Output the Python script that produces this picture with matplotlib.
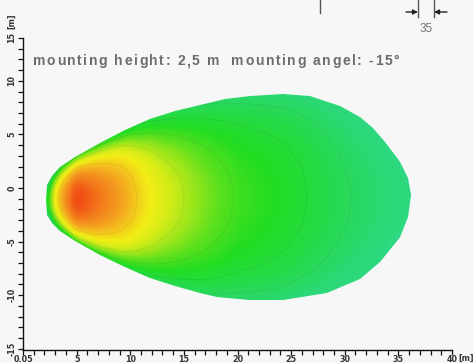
import numpy as np
import matplotlib
matplotlib.use("Agg")
import matplotlib.pyplot as plt
from matplotlib.colors import LinearSegmentedColormap
from matplotlib.patches import Polygon, FancyArrowPatch
from matplotlib.lines import Line2D
from matplotlib.transforms import IdentityTransform
from matplotlib.font_manager import FontProperties, findfont, get_font
from matplotlib.ticker import MultipleLocator

# ---------------- data ----------------
# outline of the lit area (metres)
nose_x = [2.15]
nose_y = [-1.10]
top_x = [2.24, 2.70, 3.45, 4.85, 7.18, 9.51, 11.84, 14.17, 16.50, 18.83, 21.17, 24.24, 26.76,
         29.56, 31.42, 32.63, 33.75, 35.15, 35.90, 36.18]
top_y = [0.28, 1.12, 1.96, 2.89, 4.20, 5.41, 6.44, 7.18, 7.74, 8.30, 8.58, 8.77, 8.58,
         7.65, 6.62, 5.60, 4.29, 2.45, 0.93, -0.65]
bot_x = [2.24, 2.70, 3.45, 4.85, 7.18, 9.51, 11.84, 14.17, 16.50, 18.09, 21.17, 24.24, 28.34,
         31.42, 33.29, 35.15, 35.90, 36.18]
bot_y = [-2.52, -3.26, -4.01, -4.94, -6.25, -7.37, -8.40, -9.14, -9.79, -10.17, -10.45, -10.45, -9.79,
         -8.49, -6.90, -4.60, -2.71, -0.65]

# relative illuminance along the beam axis
center_x = [2.24, 2.6, 3.0, 3.7, 4.7, 5.3, 6.5, 8.0, 9.3, 11.2, 13.0, 15.6, 18.0, 20.0, 23.3, 26.0, 29.0, 32.6, 35.0, 36.3]
center_level = [0.30, 0.45, 0.62, 0.80, 0.98, 1.00, 0.94, 0.86, 0.79, 0.66, 0.57, 0.48, 0.41, 0.36, 0.31, 0.26, 0.19, 0.12, 0.08, 0.06]
iso_levels = [0.16, 0.25, 0.37, 0.50, 0.70]

x_ticks = [0, 5, 10, 15, 20, 25, 30, 35, 40]
x_tick_labels = ["0.05", "5", "10", "15", "20", "25", "30", "35", "40"]
y_ticks = [-15, -10, -5, 0, 5, 10, 14]
y_tick_labels = ["-15", "-10", "-5", "0", "5", "10", "15"]
unit_label = "[m]"
title_text = "mounting height: 2,5 m  mounting angel: -15°"
dim_label = "35"

# ---------------- figure ----------------
W, H, DPI = 473, 363, 100
BG = "#f7f7f7"
fig = plt.figure(figsize=(W / DPI, H / DPI), dpi=DPI, facecolor=BG)
ax = fig.add_axes([23 / W, (H - 350) / H, (452 - 23) / W, (350 - 37.7) / H])
ax.set_facecolor(BG)
ax.set_xlim(0, 40)
ax.set_ylim(-15.11, 14.02)

cmap = LinearSegmentedColormap.from_list("lux", [
    (0.00, "#30d88a"), (0.10, "#2cd874"), (0.20, "#27da4c"), (0.31, "#22dd22"),
    (0.40, "#5ae01e"), (0.47, "#9ae61c"), (0.55, "#d8ec18"), (0.62, "#f2ee16"),
    (0.72, "#f4c41e"), (0.80, "#f4a020"), (0.90, "#f37a1c"), (1.00, "#f04c14")])

gx = np.linspace(0, 40, 600)
gy = np.linspace(-15.11, 14.02, 440)
X, Y = np.meshgrid(gx, gy)
t = np.interp(gx, top_x, top_y)
b = np.interp(gx, bot_x, bot_y)
mid = (t + b) / 2
half = np.maximum((t - b) / 2, 0.3)
U = (Y - mid[None, :]) / half[None, :]
P = np.interp(gx, center_x, center_level, left=0.3, right=0.05)
V = P[None, :] * np.clip(1 - 0.5 * U ** 2 - 0.15 * U ** 4, 0.05, None)

poly_pts = list(zip(nose_x, nose_y)) + list(zip(top_x, top_y)) + list(zip(bot_x[::-1], bot_y[::-1]))
patch = Polygon(poly_pts, closed=True, facecolor="none", edgecolor="none")
ax.add_patch(patch)

im = ax.imshow(V, extent=(0, 40, -15.11, 14.02), origin="lower", cmap=cmap,
               vmin=0, vmax=1, aspect="auto", interpolation="bilinear", zorder=1)
im.set_clip_path(patch)
cs = ax.contour(X, Y, V, levels=iso_levels, colors="k", linewidths=0.7, alpha=0.06, zorder=2)
cs.set_clip_path(patch)

# axes styling
for s in ("top", "right"):
    ax.spines[s].set_visible(False)
for s in ("left", "bottom"):
    ax.spines[s].set_linewidth(1.0)
    ax.spines[s].set_color("#111111")
ax.set_xticks(x_ticks)
ax.set_xticklabels(x_tick_labels)
ax.set_yticks(y_ticks)
ax.set_yticklabels(y_tick_labels, rotation=90, va="center")
ax.xaxis.set_minor_locator(MultipleLocator(1))
ax.yaxis.set_minor_locator(MultipleLocator(1))
ax.tick_params(which="both", direction="out", length=3.5, width=0.9, color="#111111")
ax.tick_params(axis="x", which="major", labelsize=5.8, pad=0.3, labelcolor="#333333")
ax.tick_params(axis="y", which="major", labelsize=5.8, pad=1.2, labelcolor="#333333")
for lab in ax.get_xticklabels() + ax.get_yticklabels():
    lab.set_fontweight("bold")

# unit labels
fig.text(458, H - 358, unit_label, fontsize=5.8, fontweight="bold", color="#333333",
         ha="left", va="center", transform=IdentityTransform())
fig.text(12, H - 21, unit_label, fontsize=5.8, fontweight="bold", color="#333333",
         rotation=90, ha="center", va="center", transform=IdentityTransform())

# title with letter spacing
prop = FontProperties(family="Liberation Sans", weight="bold", size=10)
font = get_font(findfont(prop))
font.set_size(10, DPI)
adv = []
for c in title_text:
    g = font.load_char(ord(c))
    adv.append(g.linearHoriAdvance / 65536)
x0, x1 = 33, 399
track = (x1 - x0 - sum(adv)) / (len(title_text) - 1)
xp = x0
for c, a in zip(title_text, adv):
    fig.text(xp, H - 65, c, fontproperties=prop, color="#6c6c6c",
             ha="left", va="baseline", transform=IdentityTransform())
    xp += a + track

# dimension annotation remnant at top
lc = "#555555"
fig.add_artist(Line2D([320, 320], [H, H - 13], color=lc, lw=1, transform=IdentityTransform()))
fig.add_artist(Line2D([418, 418], [H, H - 17], color=lc, lw=1, transform=IdentityTransform()))
fig.add_artist(Line2D([434, 434], [H, H - 17], color=lc, lw=1, transform=IdentityTransform()))
fig.add_artist(FancyArrowPatch((406, H - 12), (418, H - 12), arrowstyle="-|>", mutation_scale=7,
                               color="#222222", lw=1, transform=IdentityTransform(),
                               shrinkA=0, shrinkB=0))
fig.add_artist(FancyArrowPatch((447, H - 12), (434, H - 12), arrowstyle="-|>", mutation_scale=7,
                               color="#222222", lw=1, transform=IdentityTransform(),
                               shrinkA=0, shrinkB=0))
fig.text(426, H - 29, dim_label, fontsize=8.5, color="#777777", ha="center", va="center",
         family="Liberation Sans", transform=IdentityTransform())

fig.savefig("out.png", dpi=DPI, facecolor=BG)
